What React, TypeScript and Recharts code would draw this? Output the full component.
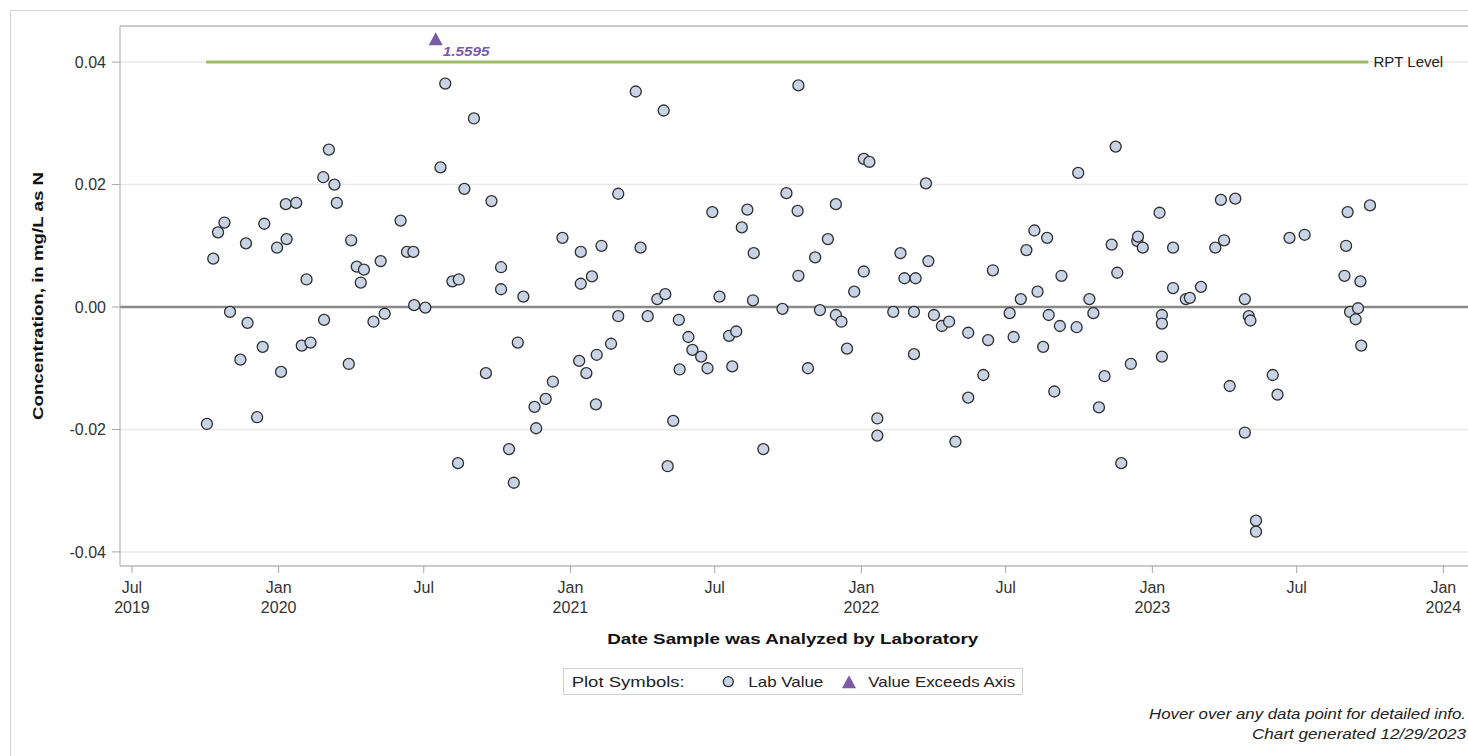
import {
  ComposedChart,
  Scatter,
  XAxis,
  YAxis,
  CartesianGrid,
  ReferenceLine,
} from "recharts";

// lab results
const sampleDates = [
  "2019-10-03", "2019-10-11", "2019-10-17", "2019-10-25", "2019-11-01", "2019-11-14", "2019-11-21", "2019-11-23",
  "2019-12-05", "2019-12-12", "2019-12-14", "2019-12-30", "2020-01-04", "2020-01-10", "2020-01-11", "2020-01-23",
  "2020-01-30", "2020-02-05", "2020-02-10", "2020-02-26", "2020-02-27", "2020-03-04", "2020-03-11", "2020-03-14",
  "2020-03-29", "2020-04-01", "2020-04-08", "2020-04-13", "2020-04-17", "2020-04-29", "2020-05-08", "2020-05-13",
  "2020-06-02", "2020-06-10", "2020-06-18", "2020-06-19", "2020-07-03", "2020-07-22", "2020-07-28", "2020-08-06",
  "2020-08-13", "2020-08-14", "2020-08-21", "2020-09-02", "2020-09-17", "2020-09-24", "2020-10-06", "2020-10-06",
  "2020-10-16", "2020-10-22", "2020-10-27", "2020-11-03", "2020-11-17", "2020-11-19", "2020-12-01", "2020-12-10",
  "2020-12-22", "2021-01-12", "2021-01-14", "2021-01-14", "2021-01-21", "2021-01-28", "2021-02-02", "2021-02-03",
  "2021-02-09", "2021-02-21", "2021-03-02", "2021-03-02", "2021-03-24", "2021-03-30", "2021-04-08", "2021-04-20",
  "2021-04-28", "2021-04-30", "2021-05-03", "2021-05-10", "2021-05-17", "2021-05-18", "2021-05-29", "2021-06-03",
  "2021-06-14", "2021-06-22", "2021-06-28", "2021-07-07", "2021-07-19", "2021-07-23", "2021-07-28", "2021-08-04",
  "2021-08-11", "2021-08-18", "2021-08-19", "2021-08-31", "2021-09-24", "2021-09-29", "2021-10-13", "2021-10-14",
  "2021-10-14", "2021-10-26", "2021-11-04", "2021-11-10", "2021-11-20", "2021-11-30", "2021-11-30", "2021-12-07",
  "2021-12-14", "2021-12-23", "2022-01-04", "2022-01-04", "2022-01-11", "2022-01-21", "2022-01-21", "2022-02-10",
  "2022-02-19", "2022-02-24", "2022-03-08", "2022-03-08", "2022-03-10", "2022-03-23", "2022-03-26", "2022-04-02",
  "2022-04-12", "2022-04-21", "2022-04-29", "2022-05-15", "2022-05-15", "2022-06-03", "2022-06-09", "2022-06-15",
  "2022-07-06", "2022-07-11", "2022-07-20", "2022-07-27", "2022-08-06", "2022-08-10", "2022-08-17", "2022-08-22",
  "2022-08-24", "2022-08-31", "2022-09-07", "2022-09-09", "2022-09-28", "2022-09-30", "2022-10-14", "2022-10-19",
  "2022-10-26", "2022-11-02", "2022-11-11", "2022-11-16", "2022-11-18", "2022-11-23", "2022-12-05", "2022-12-13",
  "2022-12-14", "2022-12-20", "2023-01-10", "2023-01-13", "2023-01-13", "2023-01-13", "2023-01-27", "2023-01-27",
  "2023-02-12", "2023-02-17", "2023-03-03", "2023-03-21", "2023-03-28", "2023-04-01", "2023-04-08", "2023-04-15",
  "2023-04-27", "2023-04-27", "2023-05-02", "2023-05-04", "2023-05-11", "2023-05-11", "2023-06-01", "2023-06-07",
  "2023-06-22", "2023-07-11", "2023-08-30", "2023-09-01", "2023-09-03", "2023-09-06", "2023-09-13", "2023-09-16",
  "2023-09-19", "2023-09-20", "2023-10-01",
];

const labValues = [
  -0.0191, 0.0079, 0.0122, 0.0138, -0.0008, -0.0086, 0.0104, -0.0026,
  -0.018, -0.0065, 0.0136, 0.0097, -0.0106, 0.0168, 0.0111, 0.017,
  -0.0063, 0.0045, -0.0058, 0.0212, -0.0021, 0.0257, 0.02, 0.017,
  -0.0093, 0.0109, 0.0066, 0.004, 0.0061, -0.0024, 0.0075, -0.0011,
  0.0141, 0.009, 0.009, 0.0003, -0.0001, 0.0228, 0.0365, 0.0042,
  -0.0255, 0.0045, 0.0193, 0.0308, -0.0108, 0.0173, 0.0065, 0.0029,
  -0.0232, -0.0287, -0.0058, 0.0017, -0.0163, -0.0198, -0.015, -0.0122,
  0.0113, -0.0088, 0.009, 0.0038, -0.0108, 0.005, -0.0159, -0.0078,
  0.01, -0.006, 0.0185, -0.0015, 0.0352, 0.0097, -0.0015, 0.0013,
  0.0321, 0.0021, -0.026, -0.0186, -0.0021, -0.0102, -0.0049, -0.007,
  -0.0081, -0.01, 0.0155, 0.0017, -0.0047, -0.0097, -0.004, 0.013,
  0.0159, 0.0011, 0.0088, -0.0232, -0.0003, 0.0186, 0.0157, 0.0362,
  0.0051, -0.01, 0.0081, -0.0005, 0.0111, 0.0168, -0.0013, -0.0024,
  -0.0068, 0.0025, 0.0242, 0.0058, 0.0237, -0.0182, -0.021, -0.0008,
  0.0088, 0.0047, -0.0008, -0.0077, 0.0047, 0.0202, 0.0075, -0.0013,
  -0.0031, -0.0024, -0.022, -0.0042, -0.0148, -0.0111, -0.0054, 0.006,
  -0.001, -0.0049, 0.0013, 0.0093, 0.0125, 0.0025, -0.0065, 0.0113,
  -0.0013, -0.0138, -0.0031, 0.0051, -0.0033, 0.0219, 0.0013, -0.001,
  -0.0164, -0.0113, 0.0102, 0.0262, 0.0056, -0.0255, -0.0093, 0.0108,
  0.0115, 0.0097, 0.0154, -0.0013, -0.0027, -0.0081, 0.0097, 0.0031,
  0.0013, 0.0015, 0.0033, 0.0097, 0.0175, 0.0109, -0.0129, 0.0177,
  0.0013, -0.0205, -0.0015, -0.0022, -0.0349, -0.0367, -0.0111, -0.0143,
  0.0113, 0.0118, 0.0051, 0.01, 0.0155, -0.0008, -0.002, -0.0002,
  0.0042, -0.0063, 0.0166,
];

// values above the axis are drawn at the top of the axis with their value beside them
const exceedDates = ["2020-07-16"];
const exceedValues = [1.5595];
const EXCEED_AXIS_Y = 0.0438;

const RPT_LEVEL = 0.04;
const rptDates = ["2019-10-02", "2023-09-29"];

const yTicks = [-0.04, -0.02, 0, 0.02, 0.04];
const xTickDates = [
  "2019-07-01", "2020-01-01", "2020-07-01", "2021-01-01", "2021-07-01",
  "2022-01-01", "2022-07-01", "2023-01-01", "2023-07-01", "2024-01-01",
];
const monthNames = ["Jan", "Feb", "Mar", "Apr", "May", "Jun", "Jul", "Aug", "Sep", "Oct", "Nov", "Dec"];

const toTime = (s: string) => new Date(s + "T00:00:00Z").getTime();

const labPoints = sampleDates.map((d, i) => ({ t: toTime(d), v: labValues[i] }));
const exceedPoints = exceedDates.map((d, i) => ({ t: toTime(d), v: EXCEED_AXIS_Y, actual: exceedValues[i] }));

const FONT = "'Liberation Sans', Arial, Helvetica, sans-serif";
const PURPLE = "#7b5aa6";

const DateTick = (props: any) => {
  const { x, y, payload, index } = props;
  const d = new Date(payload.value);
  const m = d.getUTCMonth();
  const showYear = m === 0 || index === 0;
  return (
    <text x={x} y={y} textAnchor="middle" fill="#333" fontSize={16} fontFamily={FONT}>
      <tspan x={x} y={y + 18}>{monthNames[m]}</tspan>
      {showYear && <tspan x={x} y={y + 38}>{d.getUTCFullYear()}</tspan>}
    </text>
  );
};

const LabDot = (props: any) => (
  <circle cx={props.cx} cy={props.cy} r={5.5} fill="#c8d4e6" stroke="#2e2e2e" strokeWidth={1.3} />
);

const ExceedMark = (props: any) => {
  const { cx, cy, payload } = props;
  return (
    <g>
      <path d={`M${cx},${cy - 6.5}L${cx + 7},${cy + 6.5}L${cx - 7},${cy + 6.5}Z`} fill={PURPLE} />
      <text
        x={cx + 7}
        y={cy + 17.5}
        fill={PURPLE}
        fontSize={13}
        fontWeight="bold"
        fontStyle="italic"
        fontFamily={FONT}
        textLength={47}
        lengthAdjust="spacingAndGlyphs"
      >
        {payload.actual.toFixed(4)}
      </text>
    </g>
  );
};

const App = () => {
  return (
    <div
      style={{
        position: "fixed",
        left: 0,
        top: 0,
        width: 1468,
        height: 756,
        overflow: "hidden",
        background: "#fff",
        fontFamily: FONT,
      }}
    >
      <div style={{ position: "absolute", left: 8, top: 8, width: 1460, height: 748 }}>
        <div
          style={{
            position: "absolute",
            left: 2,
            top: 2,
            width: 1500,
            height: 800,
            border: "1px solid #d4d4d4",
            boxSizing: "border-box",
          }}
        />
        <div style={{ position: "absolute", left: 0, top: 0 }}>
          <ComposedChart width={1472} height={638} margin={{ top: 18, right: 0, left: 32, bottom: 0 }}>
            <CartesianGrid horizontal vertical={false} stroke="#e9e9e9" strokeWidth={1.5} />
            <XAxis
              type="number"
              dataKey="t"
              domain={[toTime("2019-06-16"), toTime("2024-02-16")]}
              ticks={xTickDates.map(toTime)}
              interval={0}
              tick={(p: any) => <DateTick {...p} />}
              tickSize={7}
              height={80}
              allowDataOverflow
              axisLine={{ stroke: "#a6a6a6" }}
              tickLine={{ stroke: "#a6a6a6" }}
            />
            <YAxis
              type="number"
              dataKey="v"
              domain={[-0.0423, 0.0459]}
              ticks={yTicks}
              tickFormatter={(v: number) => v.toFixed(2)}
              width={80}
              tickSize={8}
              tickMargin={6}
              allowDataOverflow
              axisLine={{ stroke: "#a6a6a6" }}
              tickLine={{ stroke: "#a6a6a6" }}
              tick={{ fill: "#333", fontSize: 16, fontFamily: FONT }}
            />
            <ReferenceLine y={0.0459} stroke="#a6a6a6" />
            <ReferenceLine y={0} stroke="#8a8a8a" strokeWidth={2.5} />
            <ReferenceLine
              segment={[
                { x: toTime(rptDates[0]), y: RPT_LEVEL },
                { x: toTime(rptDates[1]), y: RPT_LEVEL },
              ]}
              stroke="#9cb96c"
              strokeWidth={3}
              label={{ value: "RPT Level", position: "right", fill: "#222", fontSize: 15, fontFamily: FONT }}
            />
            <Scatter data={labPoints} dataKey="v" shape={LabDot} isAnimationActive={false} />
            <Scatter data={exceedPoints} dataKey="v" shape={ExceedMark} isAnimationActive={false} />
          </ComposedChart>
        </div>
        <svg
          width={1460}
          height={748}
          style={{ position: "absolute", left: 0, top: 0, pointerEvents: "none" }}
          fontFamily={FONT}
        >
          <text
            transform="translate(29,288) rotate(-90)"
            textAnchor="middle"
            dominantBaseline="central"
            fontSize={15}
            fontWeight="bold"
            fill="#111"
            textLength={248}
            lengthAdjust="spacingAndGlyphs"
          >
            Concentration, in mg/L as N
          </text>
          <text
            x={784.7}
            y={636}
            textAnchor="middle"
            fontSize={15}
            fontWeight="bold"
            fill="#111"
            textLength={371}
            lengthAdjust="spacingAndGlyphs"
          >
            Date Sample was Analyzed by Laboratory
          </text>

          <rect x={555.5} y={660.5} width={459} height={26} fill="#fff" stroke="#cfcfcf" />
          <text x={563.7} y={678.7} fontSize={15} fill="#222" textLength={113} lengthAdjust="spacingAndGlyphs">
            Plot Symbols:
          </text>
          <circle cx={720.3} cy={673.7} r={5} fill="#c8d4e6" stroke="#2e2e2e" strokeWidth={1.3} />
          <text x={740.3} y={678.7} fontSize={15} fill="#222" textLength={75} lengthAdjust="spacingAndGlyphs">
            Lab Value
          </text>
          <path d="M841,667.2L848,680.2L834,680.2Z" fill={PURPLE} />
          <text x={860.3} y={678.7} fontSize={15} fill="#222" textLength={147} lengthAdjust="spacingAndGlyphs">
            Value Exceeds Axis
          </text>

          <text
            x={1458}
            y={710.7}
            textAnchor="end"
            fontSize={15}
            fontStyle="italic"
            fill="#222"
            textLength={317}
            lengthAdjust="spacingAndGlyphs"
          >
            Hover over any data point for detailed info.
          </text>
          <text
            x={1458}
            y={730.7}
            textAnchor="end"
            fontSize={15}
            fontStyle="italic"
            fill="#222"
            textLength={214}
            lengthAdjust="spacingAndGlyphs"
          >
            Chart generated 12/29/2023
          </text>
        </svg>
      </div>
    </div>
  );
};

export default App;
